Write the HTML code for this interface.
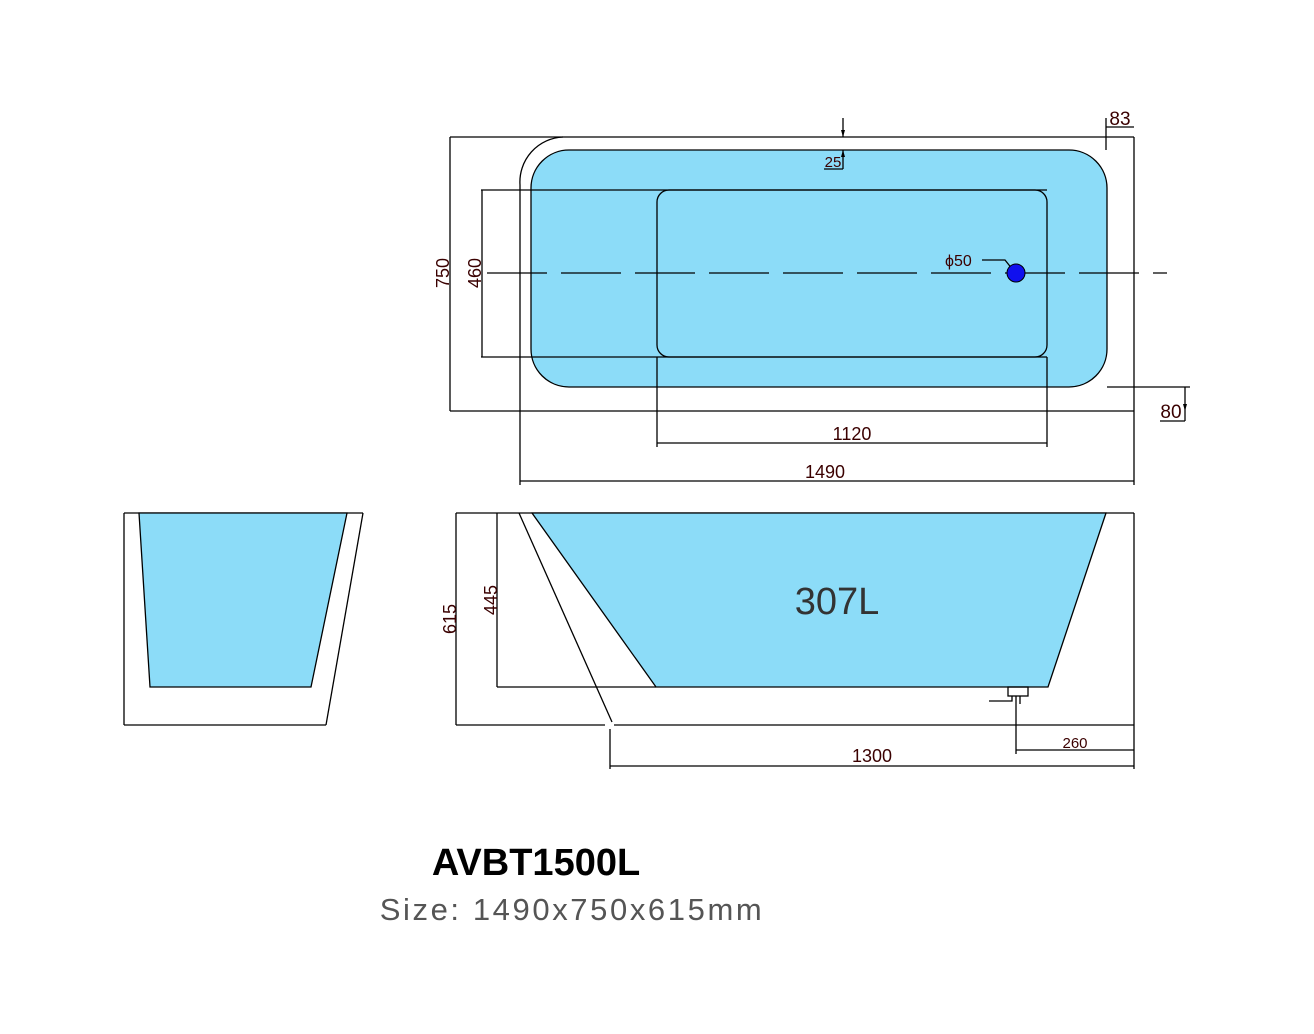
<!DOCTYPE html>
<html><head><meta charset="utf-8"><style>
html,body{margin:0;padding:0;background:#fff;width:1314px;height:1034px;overflow:hidden}
svg{display:block}
text{font-family:"Liberation Sans",sans-serif}
</style></head><body>
<svg width="1314" height="1034" viewBox="0 0 1314 1034" xmlns="http://www.w3.org/2000/svg">
<g stroke="#000" stroke-width="1.3" fill="none">
<line x1="450" y1="137" x2="1134" y2="137"/>
<line x1="450" y1="411" x2="1134" y2="411"/>
<line x1="450" y1="137" x2="450" y2="411"/>
<path d="M563 137 A45 45 0 0 0 520 185 L520 411"/>
<line x1="1134" y1="137" x2="1134" y2="485"/>
<line x1="1106" y1="118" x2="1106" y2="150"/>
<line x1="1106" y1="127" x2="1134" y2="127"/>
<rect x="531" y="150" width="576" height="237" rx="38" fill="#8cdcf8"/>
<rect x="657" y="190" width="390" height="167" rx="12"/>
<line x1="481" y1="190" x2="1047" y2="190"/>
<line x1="481" y1="357" x2="1047" y2="357"/>
<line x1="482" y1="190" x2="482" y2="357"/>
<line x1="487" y1="273" x2="1167" y2="273" stroke-dasharray="60,14"/>
<line x1="657" y1="357" x2="657" y2="447"/>
<line x1="1047" y1="357" x2="1047" y2="447"/>
<line x1="657" y1="443" x2="1047" y2="443"/>
<line x1="520" y1="411" x2="520" y2="485"/>
<line x1="520" y1="481" x2="1134" y2="481"/>
<line x1="843" y1="118" x2="843" y2="137"/>
<line x1="843" y1="150" x2="843" y2="169"/>
<line x1="824" y1="169" x2="843" y2="169"/>
<line x1="1107" y1="387" x2="1190" y2="387"/>
<line x1="1185" y1="387" x2="1185" y2="421"/>
<line x1="1160" y1="421" x2="1185" y2="421"/>
<path d="M982 260 L1005 260 L1013 270"/>
<line x1="124" y1="513" x2="124" y2="725"/>
<line x1="124" y1="513" x2="363" y2="513"/>
<line x1="124" y1="725" x2="326" y2="725"/>
<line x1="363" y1="513" x2="326" y2="725"/>
<polygon points="139,513 347,513 311,687 150,687" fill="#8cdcf8"/>
<line x1="456" y1="513" x2="1134" y2="513"/>
<line x1="456" y1="513" x2="456" y2="725"/>
<line x1="1134" y1="513" x2="1134" y2="769"/>
<line x1="456" y1="725" x2="605" y2="725"/>
<line x1="614" y1="725" x2="1134" y2="725"/>
<polygon points="532,513 1106,513 1048,687 656,687" fill="#8cdcf8"/>
<line x1="497" y1="513" x2="497" y2="687"/>
<line x1="497" y1="687" x2="656" y2="687"/>
<line x1="519" y1="513" x2="612" y2="722"/>
<rect x="1008" y="687" width="20" height="9"/>
<path d="M1012 696 L1012 701 L989 701 M1020 696 L1020 704"/>
<line x1="1016" y1="696" x2="1016" y2="754"/>
<line x1="1016" y1="750" x2="1134" y2="750"/>
<line x1="610" y1="729" x2="610" y2="769"/>
<line x1="610" y1="766" x2="1134" y2="766"/>
</g>
<polygon points="841,130 845,130 843,137" fill="#000"/>
<polygon points="841,157 845,157 843,150" fill="#000"/>
<polygon points="1183,404 1187,404 1185,411" fill="#000"/>
<circle cx="1016" cy="273" r="9" fill="#1010ee" stroke="#000" stroke-width="1"/>
<g fill="#3a0000" font-size="18">
<text x="852" y="440" text-anchor="middle">1120</text>
<text x="825" y="478" text-anchor="middle">1490</text>
<text x="833" y="167" text-anchor="middle" font-size="15">25</text>
<text x="1120" y="125" text-anchor="middle" font-size="19">83</text>
<text x="1171" y="418" text-anchor="middle" font-size="19">80</text>
<text x="945" y="266" font-size="16">ϕ50</text>
<text transform="translate(449,273) rotate(-90)" text-anchor="middle">750</text>
<text transform="translate(481,273) rotate(-90)" text-anchor="middle">460</text>
<text transform="translate(456,619) rotate(-90)" text-anchor="middle">615</text>
<text transform="translate(497,600) rotate(-90)" text-anchor="middle">445</text>
<text x="872" y="762" text-anchor="middle">1300</text>
<text x="1075" y="748" text-anchor="middle" font-size="15">260</text>
</g>
<text x="837" y="614" text-anchor="middle" font-size="38" fill="#333">307L</text>
<text x="536" y="875" text-anchor="middle" font-size="38" font-weight="bold" fill="#000">AVBT1500L</text>
<text x="572" y="920" text-anchor="middle" font-size="31" fill="#555" letter-spacing="2.6">Size: 1490x750x615mm</text>
</svg>
</body></html>
